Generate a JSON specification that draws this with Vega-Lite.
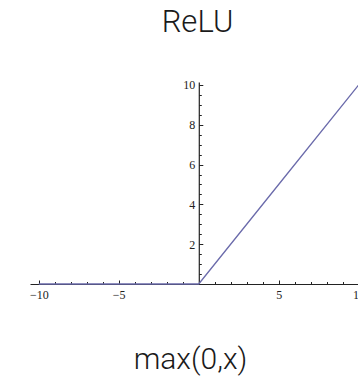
{
  "$schema": "https://vega.github.io/schema/vega-lite/v6.json",
  "width": 335,
  "height": 202,
  "autosize": "none",
  "padding": {"left": 30, "top": 82, "right": 0, "bottom": 96},
  "background": "white",
  "config": {
    "view": {"stroke": null},
    "axis": {
      "domainColor": "#222222",
      "domainWidth": 1.2,
      "tickColor": "#222222",
      "labelColor": "#222222",
      "labelFont": "Liberation Serif",
      "labelFontSize": 12,
      "grid": false,
      "zindex": 1
    }
  },
  "title": {
    "text": "ReLU",
    "font": "Roboto",
    "fontWeight": 300,
    "fontSize": 31,
    "color": "#1a1a1a",
    "anchor": "middle",
    "frame": "group",
    "baseline": "alphabetic",
    "offset": 16
  },
  "datasets": {
    "relu": [
      {"x": -10, "y": 0},
      {"x": -5, "y": 0},
      {"x": 0, "y": 0},
      {"x": 5, "y": 5},
      {"x": 10, "y": 10}
    ]
  },
  "data": {"name": "relu"},
  "resolve": {"axis": {"x": "independent", "y": "independent"}},
  "layer": [
    {
      "mark": {"type": "line", "color": "#6b6bab", "strokeWidth": 1.3},
      "encoding": {
        "x": {
          "field": "x",
          "type": "quantitative",
          "scale": {"domain": [-10.55, 10.4], "nice": false, "zero": false},
          "axis": {
            "orient": "bottom",
            "values": [-10, -5, 5, 10],
            "tickSize": -4,
            "labelPadding": 9,
            "title": "max(0,x)",
            "titleFont": "Roboto",
            "titleFontWeight": 300,
            "titleFontSize": 30,
            "titleColor": "#1a1a1a",
            "titleX": 160,
            "titleY": 84,
            "titleAlign": "center",
            "titleBaseline": "alphabetic"
          }
        },
        "y": {
          "field": "y",
          "type": "quantitative",
          "scale": {"domain": [0, 10.15], "nice": false},
          "axis": {
            "orient": "left",
            "offset": -168.8,
            "values": [2, 4, 6, 8, 10],
            "tickSize": -4,
            "labelPadding": 8,
            "title": null
          }
        }
      }
    },
    {
      "mark": {"type": "point", "opacity": 0},
      "encoding": {
        "x": {
          "field": "x",
          "type": "quantitative",
          "scale": {"domain": [-10.55, 10.4], "nice": false, "zero": false},
          "axis": {
            "orient": "bottom",
            "values": [-9, -8, -7, -6, -4, -3, -2, -1, 1, 2, 3, 4, 6, 7, 8, 9],
            "tickSize": -2.5,
            "labels": false,
            "domain": false,
            "title": null
          }
        },
        "y": {
          "field": "y",
          "type": "quantitative",
          "scale": {"domain": [0, 10.15], "nice": false},
          "axis": {
            "orient": "left",
            "offset": -168.8,
            "values": [0.5, 1, 1.5, 2.5, 3, 3.5, 4.5, 5, 5.5, 6.5, 7, 7.5, 8.5, 9, 9.5],
            "tickSize": -2.5,
            "labels": false,
            "domain": false,
            "title": null
          }
        }
      }
    }
  ]
}
